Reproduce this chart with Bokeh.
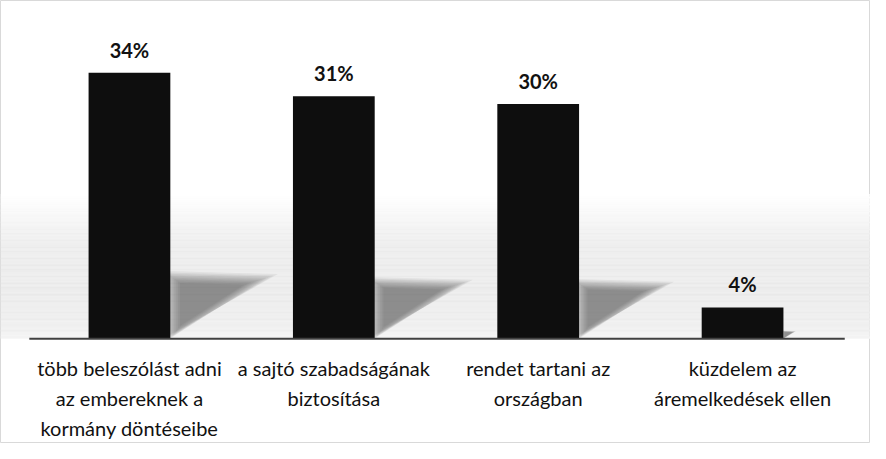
import numpy as np
from bokeh.plotting import figure
from bokeh.models import Range1d, ColumnDataSource
from bokeh.core.properties import value
from bokeh.embed import file_html
from bokeh.resources import INLINE

# ---- data ----
categories = [
    "több beleszólást adni\naz embereknek a\nkormány döntéseibe",
    "a sajtó szabadságának\nbiztosítása",
    "rendet tartani az\nországban",
    "küzdelem az\náremelkedések ellen",
]
values = [34, 31, 30, 4]
value_labels = ["34%", "31%", "30%", "4%"]

idx = list(range(len(categories)))

X0, X1 = -0.631, 3.626
p = figure(width=870, height=443, output_backend="svg", toolbar_location=None,
           x_range=Range1d(X0, X1), y_range=Range1d(-13.39, 43.23),
           x_axis_location=None, y_axis_location=None, min_border=0)
p.grid.visible = False
p.background_fill_color = "white"
p.border_fill_color = "white"
p.outline_line_color = "#d9d9d9"
p.outline_line_width = 1

# ---- background gradient band (styling) ----
stops_y = [0.0, 1.0, 6.0, 12.0, 18.5]
stops_g = [244, 238, 233, 235, 255]
ys = np.arange(0.0, 18.5, 0.1)
cols = []
for yy in ys:
    g = int(round(np.interp(yy + 0.05, stops_y, stops_g)))
    cols.append("#%02x%02x%02x" % (g, g, g))
p.quad(left=X0, right=X1, bottom=ys, top=ys + 0.11, fill_color=cols,
       line_color=None)

# ---- soft shadows derived from bar values ----
bw = 0.4
for s in [1.24, 1.17, 1.11, 1.05, 0.99, 0.93, 0.87, 0.81, 0.75, 0.69]:
    xs_all, ys_all = [], []
    for i, v in zip(idx, values):
        h = 0.235 * v
        w = 0.01335 * v
        x0 = i + bw / 2
        pts = [(x0, 0.0), (x0, h), (x0 + w, h * 0.96)]
        cx = x0 + w / 3.0
        cy = (h + h * 0.96) / 3.0
        xs_all.append([cx + (px - cx) * s for px, _ in pts])
        ys_all.append([max(cy + (py - cy) * s, 0.0) for _, py in pts])
    p.patches(xs=xs_all, ys=ys_all, fill_color="#3a3a3a", fill_alpha=0.072,
              line_color=None)

# ---- bars ----
src = ColumnDataSource(dict(x=idx, top=values, lab=value_labels, cat=categories))
p.vbar(x="x", top="top", width=bw, bottom=0, source=src,
       fill_color="#0e0e0e", line_color=None)

# ---- baseline ----
p.segment(x0=[-0.49], y0=[0], x1=[3.5], y1=[0], line_color="#404040",
          line_width=2)

# ---- value labels ----
p.text(x="x", y="top", text="lab", source=src, text_font=value("Lato"),
       text_font_style="bold", text_font_size="20px", text_color="#111111",
       text_align="center", text_baseline="middle", y_offset=-23)

# ---- category labels ----
p.text(x="x", y=0, text="cat", source=src, text_font=value("Lato"),
       text_font_size="20px", text_color="#111111", text_align="center",
       text_baseline="top", y_offset=17, text_line_height=1.25)

open("out.html", "w").write(file_html(p, INLINE))
